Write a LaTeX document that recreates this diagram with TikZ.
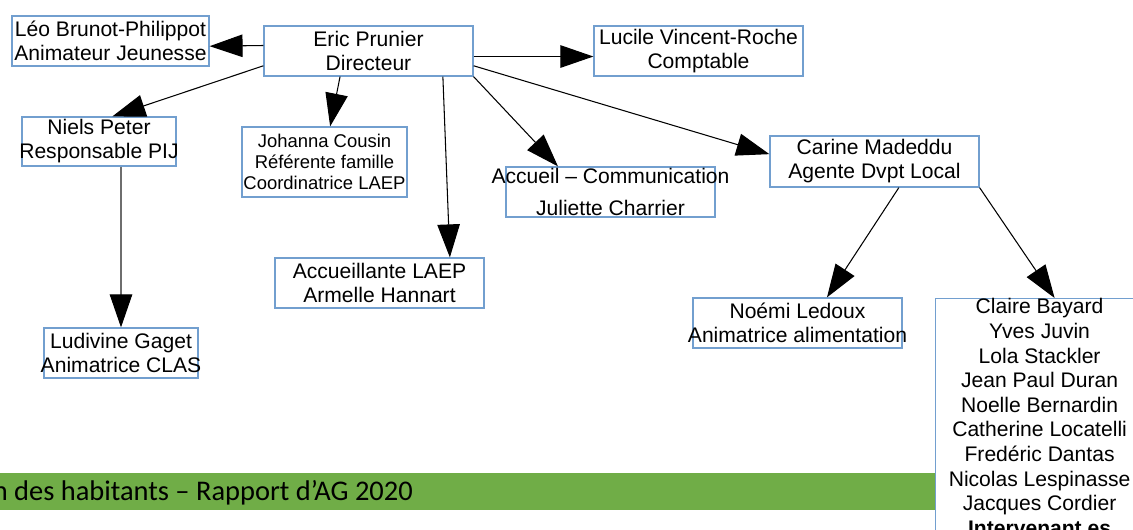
\documentclass[tikz,border=0pt]{standalone}
\usepackage{fontspec}
\setmainfont{Liberation Sans}
\newfontfamily\bandfont{Carlito}
\usetikzlibrary{arrows.meta}
\definecolor{boxblue}{RGB}{114,159,207}
\definecolor{bandgreen}{RGB}{112,173,71}
\definecolor{linegray}{RGB}{110,110,110}
\newcommand{\ligne}[1]{\makebox[0pt]{#1}}

\begin{document}
\begin{tikzpicture}[x=0.02cm, y=-0.02cm,
		box/.style={draw=boxblue, line width=0.7pt, inner sep=0pt, align=center, minimum width=4.18cm, minimum height=1cm, font=\fontsize{12}{13.7}\selectfont},
		link/.style={-{Triangle[length=0.66cm, width=0.45cm, color=black]}, line width=0.6pt}]
		\useasboundingbox (0,0) rectangle (1133,529);
		\fill[bandgreen] (0,473) rectangle (935,510);
		\node[anchor=base east, font=\bandfont\fontsize{16.2}{19}\selectfont] (footer) at (419,500.5) {n des habitants – Rapport d’AG 2020};
		\node[box, minimum width=3.94cm] (leo) at (110.5,41) {Léo Brunot-Philippot\\Animateur Jeunesse};
		\node[box] (eric) at (368.5,51) {Eric Prunier\\Directeur};
		\node[box] (lucile) at (698.5,51) {Lucile Vincent-Roche\\Comptable};
		\node[box, minimum width=3.08cm, minimum height=0.98cm] (niels) at (99,141.5) {Niels Peter\\\ligne{Responsable PIJ}};
		\node[box, minimum width=3.3cm, minimum height=1.4cm, font=\fontsize{10.5}{12}\selectfont] (johanna) at (324.5,162) {Johanna Cousin\\Référente famille\\Coordinatrice LAEP};
		\node[box] (accueil) at (610.5,192) {\ligne{Accueil – Communication}\\[4.5pt]Juliette Charrier};
		\node[box, minimum height=1.02cm] (carine) at (874.5,161.5) {Carine Madeddu\\Agente Dvpt Local};
		\node[box] (laep) at (379.5,283) {Accueillante LAEP\\Armelle Hannart};
		\node[box, minimum width=3.08cm] (ludivine) at (121,353) {Ludivine Gaget\\\ligne{Animatrice CLAS}};
		\node[box] (noemi) at (797.5,323) {Noémi Ledoux\\\ligne{Animatrice alimentation}};
		\node[box, anchor=north west, minimum width=4.16cm, font=\fontsize{12}{14}\selectfont] (team) at (935,298) {Claire Bayard\\Yves Juvin\\Lola Stackler\\Jean Paul Duran\\Noelle Bernardin\\Catherine Locatelli\\Fredéric Dantas\\Nicolas Lespinasse\\Jacques Cordier\\\textbf{Intervenant.es}};
		\draw[link] (eric.177) -- (leo.357);
		\draw[link] (eric.357) -- (lucile.183);
		\draw[link] (eric.188) -- (niels.62);
		\draw[link] (eric.222) -- (johanna.81);
		\draw[link] (eric.341) -- (laep.20);
		\draw[link] (eric.south east) -- (accueil.154);
		\draw[link] (eric.352) -- (carine.176);
		\draw[link] (carine.313) -- (noemi.41);
		\draw[link] (carine.south east) -- ([xshift=0.3cm]team.north);
		\draw[link, draw=linegray] (niels.south -| ludivine.north) -- (ludivine.north);
	\end{tikzpicture}
\end{document}
